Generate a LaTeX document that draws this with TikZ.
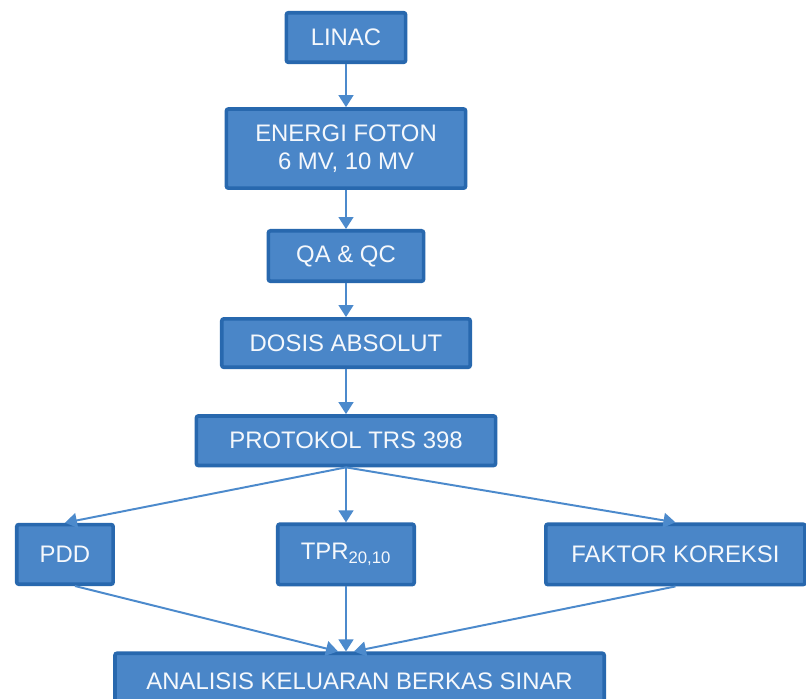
\documentclass[tikz,border=0pt]{standalone}
\usepackage{fontspec}
\setmainfont{Liberation Sans}
\usetikzlibrary{arrows.meta,positioning,calc}
\definecolor{boxblue}{RGB}{74,134,200}
\definecolor{edgeblue}{RGB}{40,104,174}
\definecolor{arrowblue}{RGB}{76,138,204}
\definecolor{textwhite}{RGB}{245,248,252}

\begin{document}
\begin{tikzpicture}[
    block/.style={rectangle, draw=edgeblue, line width=2.6pt, rounded corners=1.5pt, fill=boxblue, text=textwhite, font=\fontsize{17}{20}\selectfont, align=center, inner sep=0pt},
    arrow/.style={-{Triangle[width=10.5pt, length=8.5pt]}, draw=arrowblue, line width=1.4pt}
]
    \clip (0,0) rectangle (20.15,-17.45);
    \fill[white] (0,0) rectangle (20.15,-17.45);

    \node[block, minimum width=2.98cm, minimum height=1.24cm] (linac) at (8.65,-0.9375) {LINAC};
    \node[block, minimum width=5.98cm, minimum height=1.98cm, below=1.075cm of linac] (foton) {ENERGI FOTON\\6 MV, 10 MV};
    \node[block, minimum width=3.88cm, minimum height=1.26cm, below=0.975cm of foton] (qaqc) {QA \& QC};
    \node[block, minimum width=6.21cm, minimum height=1.21cm, below=0.85cm of qaqc] (dosis) {DOSIS ABSOLUT};
    \node[block, minimum width=7.48cm, minimum height=1.24cm, below=1.125cm of dosis] (protokol) {PROTOKOL TRS 398};
    \node[block, minimum width=3.41cm, minimum height=1.51cm, below=1.375cm of protokol] (tpr) {TPR\textsubscript{20,10}};
    \node[block, minimum width=2.41cm, minimum height=1.49cm, left=4.025cm of tpr] (pdd) {PDD};
    \node[block, minimum width=6.48cm, minimum height=1.51cm, right=3.2cm of tpr] (faktor) {FAKTOR KOREKSI};
    \node[block, minimum width=12.23cm, minimum height=1.4cm, below=1.625cm of tpr, xshift=0.34cm] (analisis) {ANALISIS KELUARAN BERKAS SINAR};

    \coordinate (inpdd) at ($(analisis.north)+(-0.54,0)$);
    \coordinate (intpr) at (tpr |- analisis.north);
    \coordinate (infaktor) at ($(analisis.north)+(-0.14,0)$);

    \draw[arrow] (linac) -- (foton);
    \draw[arrow] (foton) -- (qaqc);
    \draw[arrow] (qaqc) -- (dosis);
    \draw[arrow] (dosis) -- (protokol);
    \draw[arrow] (protokol.south) -- (pdd.north);
    \draw[arrow] (protokol.south) -- (tpr.north);
    \draw[arrow] (protokol.south) -- (faktor.north);
    \draw[arrow] ([xshift=0.25cm]pdd.south) -- (inpdd);
    \draw[arrow] (tpr.south) -- (intpr);
    \draw[arrow] (faktor.south) -- (infaktor);
\end{tikzpicture}
\end{document}
